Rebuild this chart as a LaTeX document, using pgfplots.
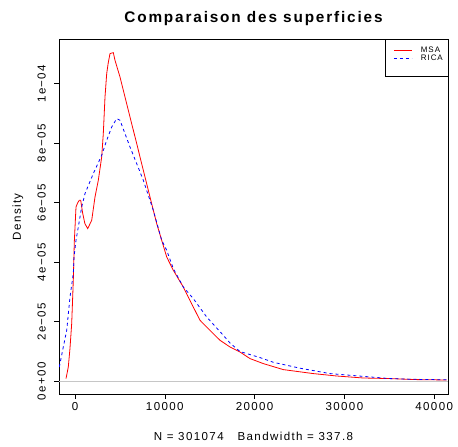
\documentclass[border=0pt]{standalone}
\usepackage{fontspec}
\setmainfont{Liberation Sans}[LetterSpace=12]
\usepackage{pgfplots}
\pgfplotsset{compat=1.18}
\begin{document}
\begin{tikzpicture}
\begin{axis}[
  name=ax,
  scale only axis, width=389bp, height=354.7bp,
  xmin=-1782, xmax=41537, ymin=-4.27e-6, ymax=1.1495e-4,
  axis line style={line width=0.6bp, black},
  tick align=outside, xtick pos=left, ytick pos=left, major tick length=5bp,
  tick style={black, line width=0.6bp},
  xtick={0,10000,20000,30000,40000},
  xticklabels={0,10000,20000,30000,40000},
  ytick={0,2e-5,4e-5,6e-5,8e-5,1e-4},
  yticklabels={0e+00,2e−05,4e−05,6e−05,8e−05,1e−04},
  scaled y ticks=false, scaled x ticks=false,
  ticklabel style={font=\fontsize{11.6}{12}\selectfont},
  xticklabel style={inner sep=3bp},
  yticklabel style={rotate=90, anchor=south, inner xsep=0bp, inner ysep=8bp},
  title={Comparaison des superficies},
  title style={at={(0.5,1)}, anchor=base, yshift=10.6bp, font=\fontsize{15.4}{16}\selectfont\bfseries},
  xlabel={N = 301074\hspace{1.2em}Bandwidth = 337.8},
  xlabel style={at={(0.5,0)}, anchor=base, yshift=-46bp, font=\fontsize{11.6}{12}\selectfont},
  ylabel={Density},
  ylabel style={at={(0,0.5)}, anchor=center, yshift=41bp, font=\fontsize{11.6}{12}\selectfont},
  legend style={at={(1,1)}, anchor=north east, draw=black, line width=0.4bp,
    font=\fontsize{8}{8}\selectfont, inner xsep=4bp, inner ysep=6.5bp, row sep=-1.2bp,
    column sep=7.5bp, nodes={inner sep=1bp}},
  legend cell align=left,
  legend image code/.code={\path (0bp,0bp); \draw[#1] (4bp,0bp) -- (22bp,0bp);},
]
\addplot[forget plot, gray!45, line width=0.5bp] coordinates {(-1782,0) (41537,0)};
\addplot[color=red, draw=red, line width=0.8bp] coordinates {
(-1002,9.1e-7) (-746,4.81e-6) (-560,1.1e-5) (-367,1.949e-5) (-189,3.395e-5) (-78,4.682e-5)
(111,5.858e-5) (300,6.0e-5) (479,6.083e-5) (635,6.083e-5) (857,5.646e-5) (1100,5.3e-5)
(1414,5.132e-5) (1860,5.411e-5) (2227,6.194e-5) (2595,6.756e-5) (2973,7.539e-5)
(3151,8.325e-5) (3341,9.555e-5) (3530,1.0342e-4) (3700,1.07e-4) (3898,1.1014e-4) (4265,1.1048e-4)
(4454,1.0789e-4) (5011,1.0228e-4) (5568,9.555e-5) (6125,8.883e-5) (6871,7.989e-5)
(7606,7.092e-5) (8352,6.194e-5) (9098,5.3e-5) (9655,4.739e-5) (10212,4.178e-5)
(10947,3.731e-5) (12060,3.169e-5) (13000,2.6e-5) (13920,2.05e-5) (15000,1.72e-5) (16147,1.378e-5)
(17261,1.153e-5) (18374,9.85e-6) (19488,7.63e-6) (20969,5.95e-6) (23196,3.93e-6)
(26537,2.59e-6) (29143,1.78e-6) (32105,1.11e-6) (35078,9.1e-7) (38051,5.7e-7) (41392,4.4e-7)
};
\addlegendentry{MSA}
\addplot[color=blue, draw=blue, line width=0.8bp, dash pattern=on 3bp off 3bp] coordinates {
(-1748,4.81e-6) (-1303,1.153e-5) (-924,1.714e-5) (-557,2.833e-5) (-189,3.62e-5) (-111,4.178e-5)
(111,4.739e-5) (367,5.186e-5) (746,5.858e-5) (1114,6.309e-5) (2038,6.981e-5) (2973,7.596e-5)
(3530,8.1e-5) (4087,8.547e-5) (4644,8.829e-5) (5011,8.772e-5) (5568,8.325e-5) (6125,7.875e-5)
(6871,7.317e-5) (7606,6.756e-5) (8719,5.747e-5) (9655,4.739e-5) (10212,4.403e-5)
(10947,3.788e-5) (12060,3.169e-5) (13174,2.779e-5) (14666,2.161e-5) (16514,1.546e-5)
(17261,1.287e-5) (18374,1.0e-5) (20601,7.97e-6) (22083,6.39e-6) (25056,4.4e-6)
(28396,2.59e-6) (35078,9.1e-7) (37639,6.7e-7) (41537,5e-7)
};
\addlegendentry{RICA}
\addlegendimage{empty legend}
\addlegendentry{\rule{0pt}{4bp}}
\end{axis}
\path ([shift={(-59bp,-53bp)}]ax.south west) rectangle ([shift={(10bp,39.3bp)}]ax.north east);
\end{tikzpicture}
\end{document}
